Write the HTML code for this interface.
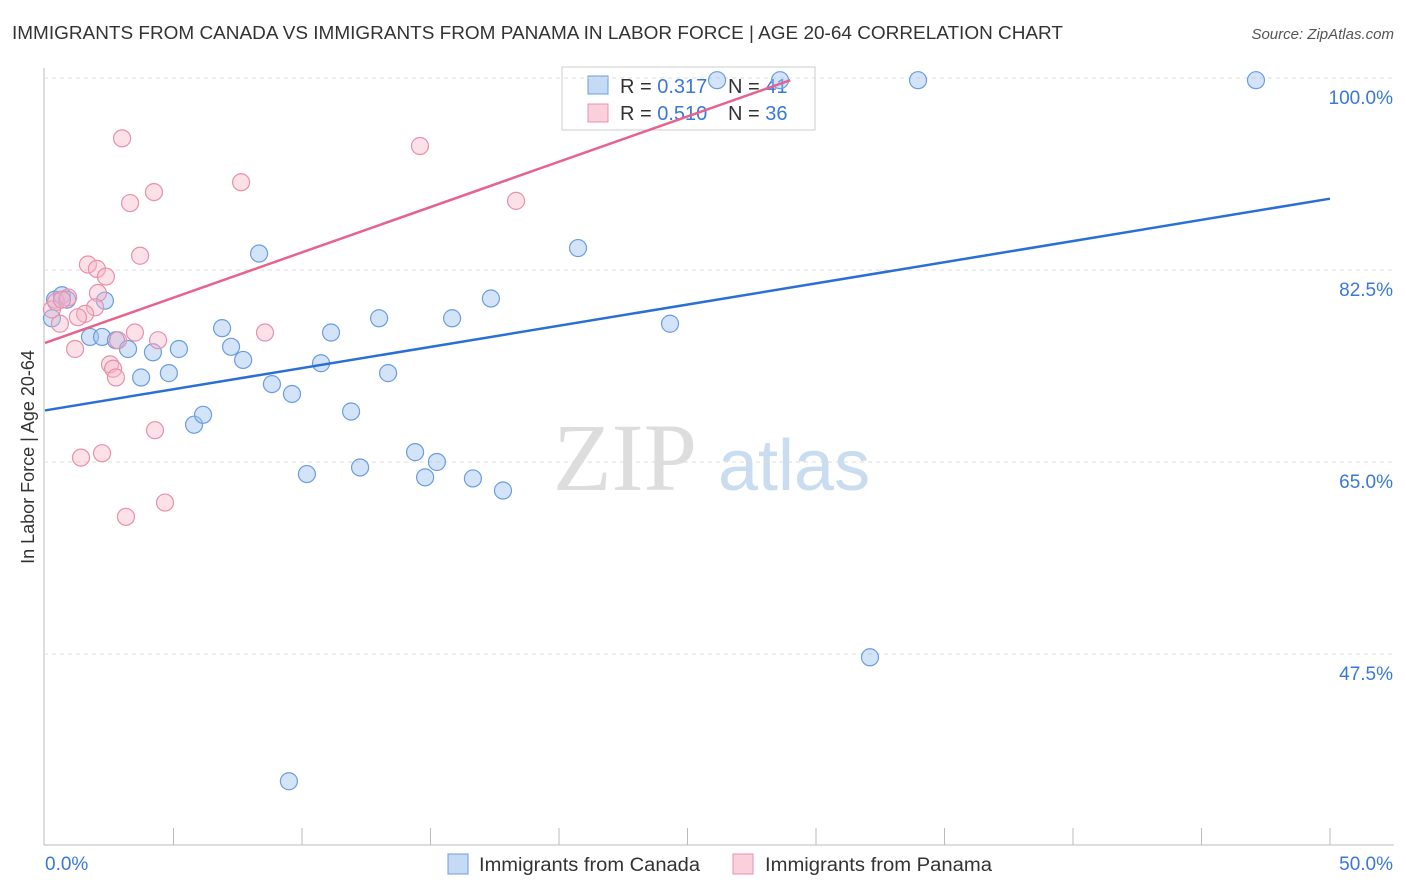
<!DOCTYPE html>
<html><head><meta charset="utf-8"><style>
body{margin:0;background:#fff;font-family:"Liberation Sans",sans-serif;}
svg{display:block}
</style></head><body>
<svg id="chart" width="1406" height="892">
<text x="12" y="39" font-size="18" fill="#333" textLength="1051" lengthAdjust="spacingAndGlyphs">IMMIGRANTS FROM CANADA VS IMMIGRANTS FROM PANAMA IN LABOR FORCE | AGE 20-64 CORRELATION CHART</text>
<text x="1394" y="39" font-size="15" fill="#555" font-style="italic" text-anchor="end">Source: ZipAtlas.com</text>
<g>
<text x="553" y="490" font-size="96" fill="#ddd" font-family="Liberation Serif,serif">ZIP</text>
<text x="718" y="490" font-size="72" fill="#c9dcf0">atlas</text>
</g>
<text transform="translate(34,457) rotate(-90)" font-size="18" fill="#333" text-anchor="middle">In Labor Force | Age 20-64</text>
<g>
<rect x="562" y="67" width="253" height="63" fill="#fff" stroke="#ccc"/>
<rect x="588" y="76" width="20" height="18" fill="#c5daf5" stroke="#6a9de0"/>
<rect x="588" y="104" width="20" height="18" fill="#fbd0dd" stroke="#e890ac"/>
<text x="620" y="93" font-size="20" fill="#333">R = <tspan fill="#3a78d8">0.317</tspan></text>
<text x="728" y="93" font-size="20" fill="#333">N = <tspan fill="#3a78d8">41</tspan></text>
<text x="620" y="120" font-size="20" fill="#333">R = <tspan fill="#3a78d8">0.510</tspan></text>
<text x="728" y="120" font-size="20" fill="#333">N = <tspan fill="#3a78d8">36</tspan></text>
</g>
<g id="grid"></g><g id="marks"></g>
<g>
<rect x="448" y="854" width="20" height="20" fill="#c5daf5" stroke="#6a9de0"/>
<text x="479" y="871" font-size="19" fill="#333" textLength="221" lengthAdjust="spacingAndGlyphs">Immigrants from Canada</text>
<rect x="733" y="854" width="20" height="20" fill="#fbd0dd" stroke="#e890ac"/>
<text x="765" y="871" font-size="19" fill="#333" textLength="227" lengthAdjust="spacingAndGlyphs">Immigrants from Panama</text>
</g>
</svg>
<script>
const xTicks=[0,5,10,15,20,25,30,35,40,45,50];
const yTicks=[47.5,65,82.5,100];
const yTickLabels=["47.5%","65.0%","82.5%","100.0%"];
const canadaX=[0.27,0.39,0.66,0.86,2.33,1.75,2.22,2.76,3.23,3.74,4.2,4.82,5.21,5.8,6.15,6.89,7.24,7.71,8.33,8.83,9.61,10.19,10.74,11.13,11.91,12.26,13.0,13.35,14.4,14.79,15.25,15.84,16.65,17.35,17.82,20.74,24.32,26.15,28.6,32.1,33.97,47.12,9.49];
const canadaY=[78.1,79.8,80.2,79.8,79.7,76.4,76.4,76.1,75.3,72.7,75.0,73.1,75.3,68.4,69.3,77.2,75.5,74.3,84.0,72.1,71.2,63.9,74.0,76.8,69.6,64.5,78.1,73.1,65.9,63.6,65.0,78.1,63.5,79.9,62.4,84.5,77.6,99.8,99.8,47.2,99.8,99.8,35.9];
const panamaX=[3.0,14.59,4.24,7.63,3.31,18.33,3.7,1.67,2.02,2.37,2.06,1.95,1.56,1.28,0.58,0.27,0.43,8.56,3.5,4.4,2.84,1.17,2.53,2.65,2.76,4.28,2.22,1.4,4.67,3.15,0.9,0.66];
const panamaY=[94.5,93.8,89.6,90.5,88.6,88.8,83.8,83.0,82.6,81.9,80.4,79.1,78.5,78.2,77.6,78.9,79.6,76.8,76.8,76.1,76.1,75.3,73.9,73.5,72.7,67.9,65.8,65.4,61.3,60.0,80.0,79.8];
const canadaTrend=[[0,69.7],[50,89.0]];
const panamaTrend=[[0,75.85],[29.0,99.8]];
const NS="http://www.w3.org/2000/svg";
const sx=v=>45+v*25.7;
const sy=v=>78+(100-v)*10.971;
function mk(tag,attrs,parent){const e=document.createElementNS(NS,tag);for(const k in attrs)e.setAttribute(k,attrs[k]);parent.appendChild(e);return e;}
const grid=document.getElementById('grid'),marks=document.getElementById('marks');
let e=mk('line',{x1:44,y1:68,x2:44,y2:845,stroke:'#bbb'},grid);


e=mk('line',{x1:44,y1:845,x2:1394,y2:845,stroke:'#bbb'},grid);


yTicks.forEach((t,i)=>{
 let g=mk('line',{x1:44,x2:1394,y1:sy(t),y2:sy(t),stroke:'#ddd','stroke-dasharray':'4,4'},grid);
 
 
 let l=mk('text',{x:1393,y:sy(t)+26,'font-size':19,fill:'#3a78d8','text-anchor':'end'},grid);
 l.textContent=yTickLabels[i];
 
 
});
xTicks.forEach((t,i)=>{
 if(i===0)return;
 let g=mk('line',{x1:sx(t),x2:sx(t),y1:828,y2:845,stroke:'#bbb'},grid);
 
 
});
[[0,'0.0%','start',45],[50,'50.0%','end',1393]].forEach(a=>{
 let l=mk('text',{x:a[3],y:870,'font-size':19,fill:'#3a78d8','text-anchor':a[2]},grid);
 l.textContent=a[1];
 
 
});
function pts(X,Y,fill,stroke,name){X.forEach((x,i)=>{
 let c=mk('circle',{cx:sx(x),cy:sy(Y[i]),r:8.5,fill:fill,stroke:stroke,'stroke-width':1.2},marks);
 
 
});}
pts(canadaX,canadaY,'rgba(160,195,240,0.45)','#6a9de0','canada-point');
pts(panamaX,panamaY,'rgba(248,180,200,0.4)','#e890ac','panama-point');
let t1=mk('line',{x1:sx(canadaTrend[0][0]),y1:sy(canadaTrend[0][1]),x2:sx(canadaTrend[1][0]),y2:sy(canadaTrend[1][1]),stroke:'#2a6fd6','stroke-width':2.5},marks);


let t2=mk('line',{x1:sx(panamaTrend[0][0]),y1:sy(panamaTrend[0][1]),x2:sx(panamaTrend[1][0]),y2:sy(panamaTrend[1][1]),stroke:'#e5638d','stroke-width':2.5},marks);


</script>
</body></html>
